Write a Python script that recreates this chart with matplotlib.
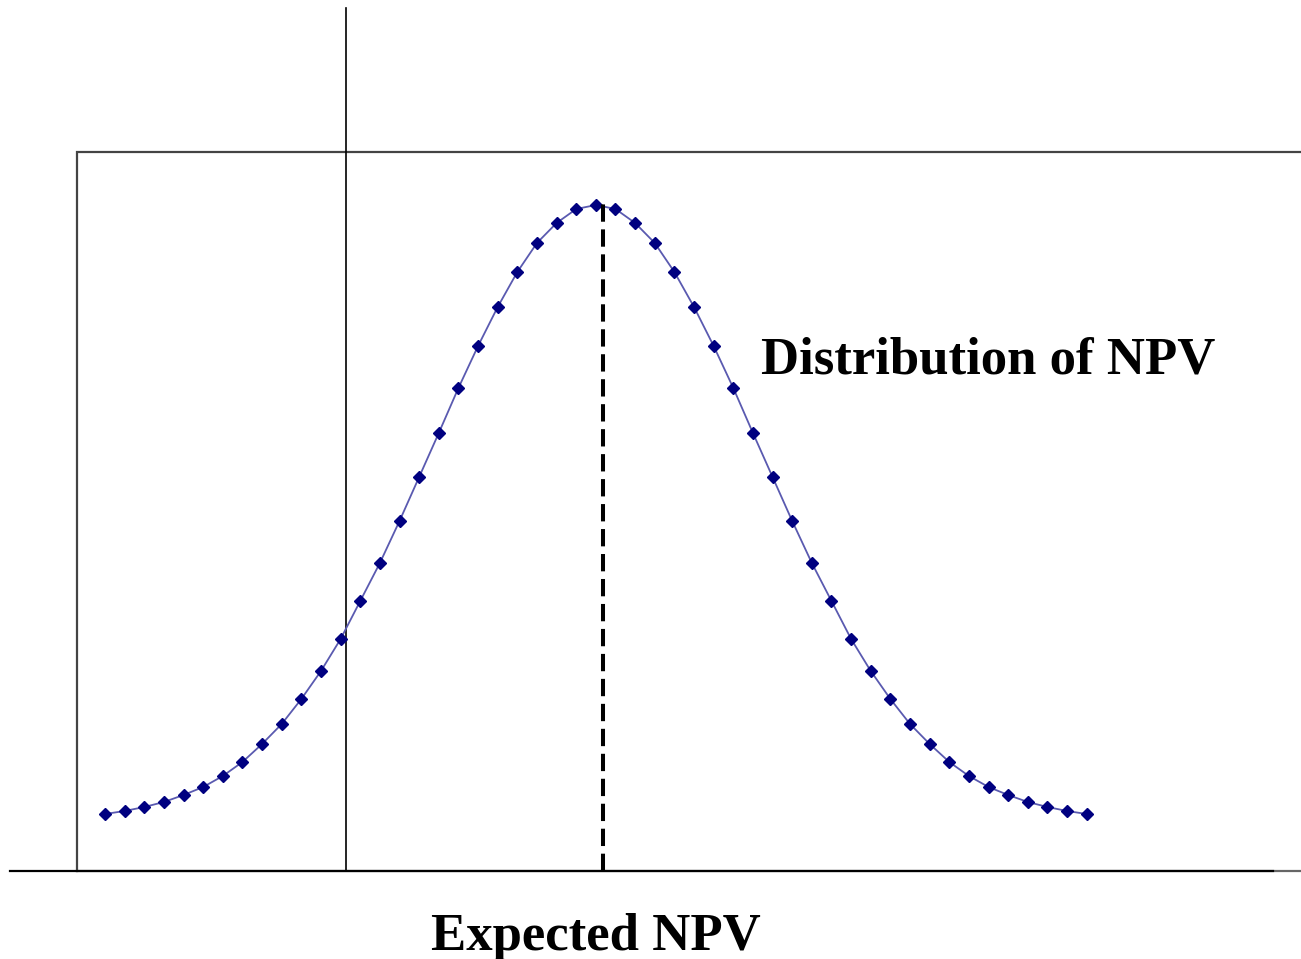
import matplotlib
matplotlib.use("Agg")
import matplotlib.pyplot as plt

# ---- data ----
npv_points = list(range(51))
density = [57, 60, 64, 69, 76, 84, 95, 109, 127, 147, 172, 200, 232, 270,
           308, 350, 394, 438, 483, 525, 564, 599, 628, 648, 662, 666,
           662, 648, 628, 599, 564, 525, 483, 438, 394, 350, 308, 270,
           232, 200, 172, 147, 127, 109, 95, 84, 76, 69, 64, 60, 57]
expected_npv = 25.37
cutoff_npv = 12.28
label_curve = "Distribution of NPV"
label_expected = "Expected NPV"

# ---- layout ----
W, H, DPI = 1301, 959, 100
fig = plt.figure(figsize=(W / DPI, H / DPI), dpi=DPI)
ax = fig.add_axes([0, 0, 1, 1])
ax.set_xlim(-5.348, 60.914)
ax.set_ylim(-88, 871)
ax.axis("off")

# frame box (left, top, bottom edges)
box_left, box_top = -1.43, 719
ax.plot([box_left, box_left, 61], [0, box_top, box_top], color="#444444", lw=1.6,
        solid_joinstyle="miter")
ax.plot([box_left, 61], [0, 0], color="#666666", lw=1.6)
# baseline
ax.plot([-4.84, 59.49], [0, 0], color="black", lw=1.6)
# solid vertical line
ax.plot([cutoff_npv, cutoff_npv], [0, 863], color="black", lw=1.2)

# curve
ax.plot(npv_points, density, color="#5a5ab0", lw=1.3, zorder=3)
ax.plot(npv_points, density, linestyle="none", marker="D", ms=6.6,
        mfc="#000080", mec="#000080", zorder=4)

# dashed expected line
ax.plot([expected_npv, expected_npv], [0, 670], color="black", lw=2.9,
        dashes=(4.3, 1.9), zorder=5)

serif = ["Liberation Serif", "DejaVu Serif"]
ax.text(33.42, 510, label_curve, fontsize=38, fontweight="bold", family=serif,
        ha="left", va="center")
ax.text(24.98, -66, label_expected, fontsize=38, fontweight="bold", family=serif,
        ha="center", va="center")

fig.savefig("out.png", dpi=DPI)
